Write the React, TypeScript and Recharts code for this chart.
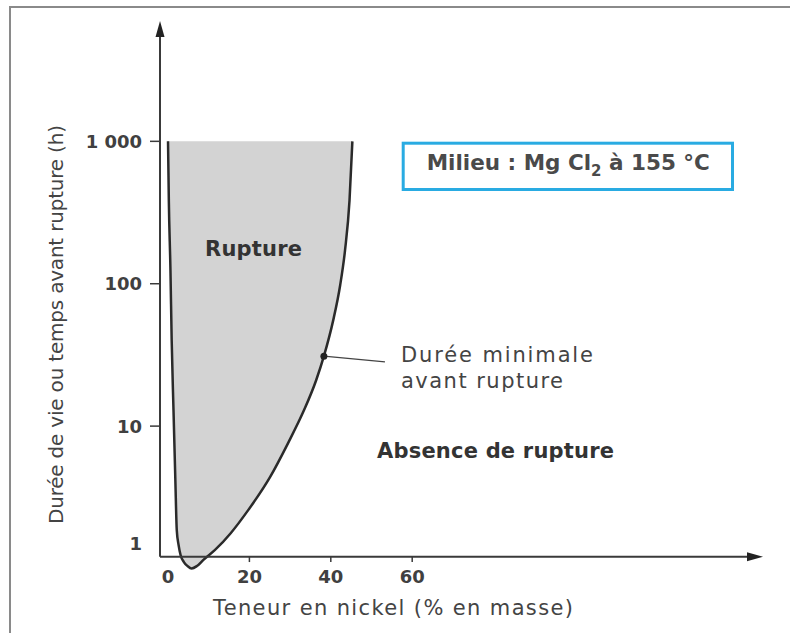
import { ComposedChart, Area, Line, XAxis, YAxis, ReferenceLine, ReferenceDot } from 'recharts'

// nickel content (% by mass) along the boundary, left to right
const nickel = [0, 0.2, 0.6, 0.9, 1.35, 1.8, 2.15, 2.6, 3.1, 3.9, 4.8, 5.8, 7.1, 8.7, 11.55, 15.4, 19.7, 25.1, 29.5, 33.4, 36.4, 38.3, 40.6, 42.3, 43.5, 44.6, 45.3]
// minimal time before rupture (h) on that boundary
const minLife = [1000, 385, 124, 40, 12.9, 4.2, 1.86, 1.46, 1.24, 1.11, 1.04, 1.0, 1.04, 1.15, 1.35, 1.77, 2.57, 4.4, 7.6, 12.9, 21, 31, 55.5, 97.6, 172, 385, 1000]

const ceiling = 1000
const xTicks = [0, 20, 40, 60]
const xTickMarks = [20, 40, 60]
const yTicks = [1, 10, 100, 1000]
const yTickLabels = ['1', '10', '100', '1 000']
const xDomain = [-1.97, 146.2]
const yDomain = [1, 7000]
const xAxisLevel = 1.21
const tickMarkEnd = 1.11
const noteDot = { n: 38.3, t: 31 }
const noteEnd = { n: 53.3, t: 28.3 }

const data = nickel.map((n, i) => ({ n, t: minLife[i], band: [minLife[i], ceiling] }))

const INK = '#3a3a3a'

function Arrow(props: any) {
  const { x1, y1, x2, y2 } = props
  const dx = x2 - x1
  const dy = y2 - y1
  const len = Math.hypot(dx, dy) || 1
  const ux = dx / len
  const uy = dy / len
  const bx = x2 - ux * 16
  const by = y2 - uy * 16
  const pts = `${x2},${y2} ${bx - uy * 4.5},${by + ux * 4.5} ${bx + uy * 4.5},${by - ux * 4.5}`
  return (
    <g>
      <line x1={x1} y1={y1} x2={bx} y2={by} stroke={INK} strokeWidth={2} />
      <polygon points={pts} fill="#222" />
    </g>
  )
}

function YTick(props: any) {
  const { x, y, payload } = props
  const i = yTicks.indexOf(payload.value)
  const isOne = payload.value === 1
  return (
    <g>
      <text x={x} y={isOne ? y - 25 : y} dy="0.36em" textAnchor="end" fontSize={18} fontWeight="bold" fill="#404040">
        {yTickLabels[i]}
      </text>
      {!isOne && <line x1={x + 8} y1={y} x2={x + 18} y2={y} stroke={INK} strokeWidth={1.5} />}
    </g>
  )
}

function App() {
  return (
    <div style={{ position: 'absolute', left: 0, top: 0, width: 790, height: 633, background: '#fff', fontFamily: 'DejaVu Sans' }}>
      <ComposedChart width={790} height={633} data={data} margin={{ top: 21, right: 27, bottom: 34.5, left: 100 }}>
        <XAxis
          type="number"
          dataKey="n"
          domain={xDomain}
          ticks={xTicks}
          axisLine={false}
          tickLine={false}
          tickSize={0}
          tickMargin={2}
          height={30}
          tick={{ fontSize: 18, fontWeight: 'bold', fill: '#404040' }}
        />
        <YAxis
          type="number"
          scale="log"
          domain={yDomain}
          ticks={yTicks}
          width={60}
          axisLine={false}
          tickLine={false}
          tickSize={10}
          tickMargin={8}
          tick={<YTick />}
        />
        <Area dataKey="band" type="monotone" stroke="none" fill="#d3d3d3" fillOpacity={1} isAnimationActive={false} activeDot={false} />
        <Line dataKey="t" type="monotone" stroke="#2a2a2a" strokeWidth={2.5} dot={false} activeDot={false} isAnimationActive={false} />
        <ReferenceLine segment={[{ x: xDomain[0], y: xAxisLevel }, { x: xDomain[1], y: xAxisLevel }]} ifOverflow="visible" shape={Arrow} />
        <ReferenceLine segment={[{ x: xDomain[0], y: xAxisLevel }, { x: xDomain[0], y: yDomain[1] }]} ifOverflow="visible" shape={Arrow} />
        {xTickMarks.map((v) => (
          <ReferenceLine key={v} segment={[{ x: v, y: xAxisLevel }, { x: v, y: tickMarkEnd }]} ifOverflow="visible" stroke={INK} strokeWidth={1.5} />
        ))}
        <ReferenceLine segment={[{ x: noteDot.n, y: noteDot.t }, { x: noteEnd.n, y: noteEnd.t }]} ifOverflow="visible" stroke="#444" strokeWidth={1.3} />
        <ReferenceDot x={noteDot.n} y={noteDot.t} r={3.5} fill="#222" stroke="none" ifOverflow="visible" />
      </ComposedChart>
      <svg width={790} height={633} style={{ position: 'absolute', left: 0, top: 0, pointerEvents: 'none' }} fontFamily="DejaVu Sans">
        <line x1={9} y1={7} x2={790} y2={7} stroke="#8a8a8a" strokeWidth={2} />
        <line x1={10} y1={6} x2={10} y2={633} stroke="#8a8a8a" strokeWidth={2} />
        <text x={62.8} y={324.5} transform="rotate(-90 62.8 324.5)" textAnchor="middle" fontSize={20} fill="#444" textLength={399} lengthAdjust="spacing">
          Durée de vie ou temps avant rupture (h)
        </text>
        <text x={213} y={615} fontSize={21} fill="#444" textLength={360} lengthAdjust="spacing">
          Teneur en nickel (% en masse)
        </text>
        <text x={205} y={256} fontSize={21} fontWeight="bold" fill="#333" textLength={97} lengthAdjust="spacing">
          Rupture
        </text>
        <text x={401} y={362} fontSize={21} fill="#444" textLength={192} lengthAdjust="spacing">
          Durée minimale
        </text>
        <text x={401} y={388} fontSize={21} fill="#444" textLength={162} lengthAdjust="spacing">
          avant rupture
        </text>
        <text x={377} y={457.5} fontSize={21} fontWeight="bold" fill="#333" textLength={237} lengthAdjust="spacing">
          Absence de rupture
        </text>
        <rect x={403.2} y={143.2} width={329.3} height={46.3} fill="#fff" stroke="#29abe2" strokeWidth={3} />
        <text x={426.7} y={170} fontSize={21.5} fontWeight="bold" fill="#4a4a4a">
          Milieu : Mg Cl<tspan dy={6} fontSize={15}>2</tspan>
          <tspan dy={-6}> à 155 °C</tspan>
        </text>
      </svg>
    </div>
  )
}

export default App
